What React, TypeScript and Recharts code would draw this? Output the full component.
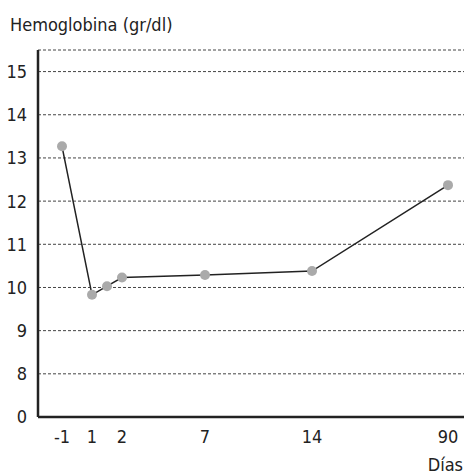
import React from 'react';
import { LineChart, Line, XAxis, YAxis, CartesianGrid, Label } from 'recharts';

// Hemoglobin by day
const days = [-1, 1, 1.5, 2, 7, 14, 90];
const hemoglobin = [13.27, 9.83, 10.03, 10.23, 10.29, 10.38, 12.37];

// labelled days on the (uneven, hand-spaced) day axis and where each sits along it
const dayTicks = [-1, 1, 2, 7, 14, 90];
const dayTickStops = [24, 54, 84, 167, 274, 410];

// y axis is broken: the bottom tick reads "0" but sits one step below 8
const yTicks = [7, 8, 9, 10, 11, 12, 13, 14, 15];

const FONT = "'DejaVu Sans Condensed', 'Roboto', sans-serif";
const INK = '#222';

const dayToStop = (d: number) => {
    for (let i = 0; i < dayTicks.length - 1; i++) {
        if (d <= dayTicks[i + 1]) {
            const t = (d - dayTicks[i]) / (dayTicks[i + 1] - dayTicks[i]);
            return dayTickStops[i] + t * (dayTickStops[i + 1] - dayTickStops[i]);
        }
    }
    return dayTickStops[dayTickStops.length - 1];
};

const data = days.map((d, i) => ({ pos: dayToStop(d), hb: hemoglobin[i] }));

export default function App() {
    return (
        <div style={{ position: 'absolute', left: 0, top: 0, width: 464, height: 476, background: '#fff', fontFamily: FONT }}>
            <div style={{ position: 'absolute', left: 10, top: 13, fontSize: 18, color: INK, lineHeight: '24px' }}>
                Hemoglobina (gr/dl)
            </div>
            <LineChart width={464} height={476} data={data} margin={{ top: 50, right: 0, left: 0, bottom: 0 }}>
                <CartesianGrid vertical={false} stroke="#444" strokeDasharray="3 2" />
                <XAxis
                    type="number"
                    dataKey="pos"
                    domain={[0, 426]}
                    ticks={dayTickStops}
                    tickFormatter={(v: number) => String(dayTicks[dayTickStops.indexOf(v)])}
                    tickLine={false}
                    tickMargin={7}
                    height={59}
                    axisLine={{ stroke: INK, strokeWidth: 2.5 }}
                    tick={{ fill: INK, fontSize: 18, fontFamily: FONT }}
                >
                    <Label value="Días" position="insideBottomRight" offset={0} dx={-1} dy={-5} style={{ fill: INK, fontSize: 18, fontFamily: FONT }} />
                </XAxis>
                <YAxis
                    type="number"
                    domain={[7, 15.5]}
                    ticks={yTicks}
                    tickFormatter={(v: number) => (v === 7 ? '0' : String(v))}
                    tickLine={false}
                    tickMargin={5}
                    width={38}
                    axisLine={{ stroke: INK, strokeWidth: 2.5 }}
                    tick={{ fill: INK, fontSize: 18, fontFamily: FONT }}
                />
                <Line
                    type="linear"
                    dataKey="hb"
                    stroke={INK}
                    strokeWidth={1.5}
                    dot={{ r: 5, fill: '#aaaaaa', stroke: 'none' }}
                    isAnimationActive={false}
                />
            </LineChart>
        </div>
    );
}
